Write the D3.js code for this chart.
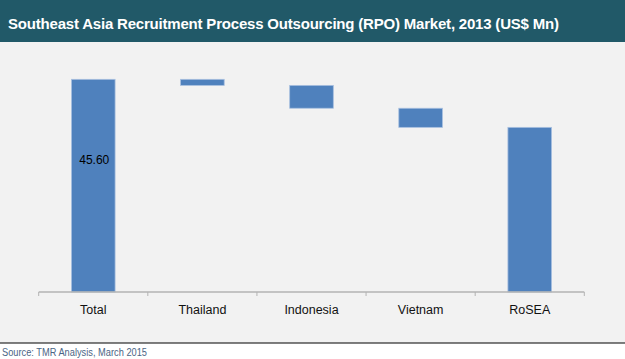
<!DOCTYPE html>
<html><head><meta charset="utf-8">
<script src="https://cdn.jsdelivr.net/npm/d3@7/dist/d3.min.js"></script>
<style>
html,body{margin:0;padding:0;background:#fff;}
svg{display:block;font-family:"Liberation Sans",Arial,sans-serif;}
</style></head>
<body><svg id="c" width="625" height="359"></svg>
<script>
const categories = ["Total", "Thailand", "Indonesia", "Vietnam", "RoSEA"];
const values = [45.60, -1.3, -4.9, -4.1, 35.3];
const kinds = ["total", "delta", "delta", "delta", "total"];
const dataLabels = ["45.60", "", "", "", ""];
const titleText = "Southeast Asia Recruitment Process Outsourcing (RPO) Market, 2013 (US$ Mn)";
const sourceText = "Source: TMR Analysis, March 2015";

const svg = d3.select("#c");
const W = 625, H = 359;

svg.append("rect").attr("x",0).attr("y",0).attr("width",W).attr("height",343).attr("fill","#f2f2f2");
svg.append("rect").attr("x",0).attr("y",0).attr("width",W).attr("height",42).attr("fill","#215968");
svg.append("line").attr("x1",0).attr("x2",W).attr("y1",343).attr("y2",343).attr("stroke","#000").attr("stroke-width",1.2);

const title = svg.append("text").attr("x",8).attr("y",28.5).attr("fill","#fff")
  .attr("font-weight","bold").attr("font-size",15).text(titleText);
const tl = title.node().getComputedTextLength();
if (Math.abs(tl-551) > 3) title.attr("textLength",551).attr("lengthAdjust","spacing");

const src = svg.append("text").attr("x",2).attr("y",355.5).attr("fill","#4b6585")
  .attr("font-size",10).text(sourceText);
const sl = src.node().getComputedTextLength();
if (Math.abs(sl-145) > 2) src.attr("textLength",145).attr("lengthAdjust","spacingAndGlyphs");

const left = 38.7, right = 584.3, baseY = 292;
const xOuter = d3.scaleBand().domain(categories).range([left,right]).padding(0);
const x = d3.scaleBand().domain(categories).range([left,right]).paddingInner(0.6).paddingOuter(0.3);
const y = d3.scaleLinear().domain([0,50]).range([baseY, baseY - 4.664*50]);

let running = 0;
const bars = categories.map((c,i)=>{
  let lo, hi;
  if (kinds[i]==="total") { lo = 0; hi = values[i]; running = values[i]; }
  else { const start = running; running = running + values[i]; lo = Math.min(start, running); hi = Math.max(start, running); }
  return {c, lo, hi, v: values[i], label: dataLabels[i]};
});

svg.append("g").selectAll("rect").data(bars).join("rect")
  .attr("x", d=>x(d.c)).attr("width", x.bandwidth())
  .attr("y", d=>y(d.hi)).attr("height", d=>y(d.lo)-y(d.hi))
  .attr("fill","#4f81bd").attr("stroke","#a9c0e0").attr("stroke-width",0.8);

// data label placed at 60% of the bar height (as in the reference)
svg.append("g").selectAll("text").data(bars.filter(d=>d.label)).join("text")
  .attr("x", d=>x(d.c)+x.bandwidth()/2+1).attr("y", d=>y(d.hi*0.6))
  .attr("text-anchor","middle").attr("font-size",12).attr("fill","#000").text(d=>d.label);

const ax = svg.append("g").attr("transform",`translate(0,${baseY})`)
  .call(d3.axisBottom(xOuter).tickSize(0).tickPadding(13));
ax.select(".domain").remove();
ax.selectAll("text").attr("font-size",12.5).attr("fill","#111").attr("font-family","'Liberation Sans',Arial,sans-serif");
ax.append("line").attr("x1",left).attr("x2",right).attr("y1",0).attr("y2",0).attr("stroke","#b3b3b3").attr("stroke-width",1.5);
const bounds = categories.map(c=>xOuter(c)).concat([xOuter(categories[categories.length-1])+xOuter.bandwidth()]);
ax.selectAll("line.tk").data(bounds).join("line").attr("class","tk")
  .attr("x1",d=>d).attr("x2",d=>d).attr("y1",0).attr("y2",4).attr("stroke","#b3b3b3").attr("stroke-width",1);
</script></body></html>
